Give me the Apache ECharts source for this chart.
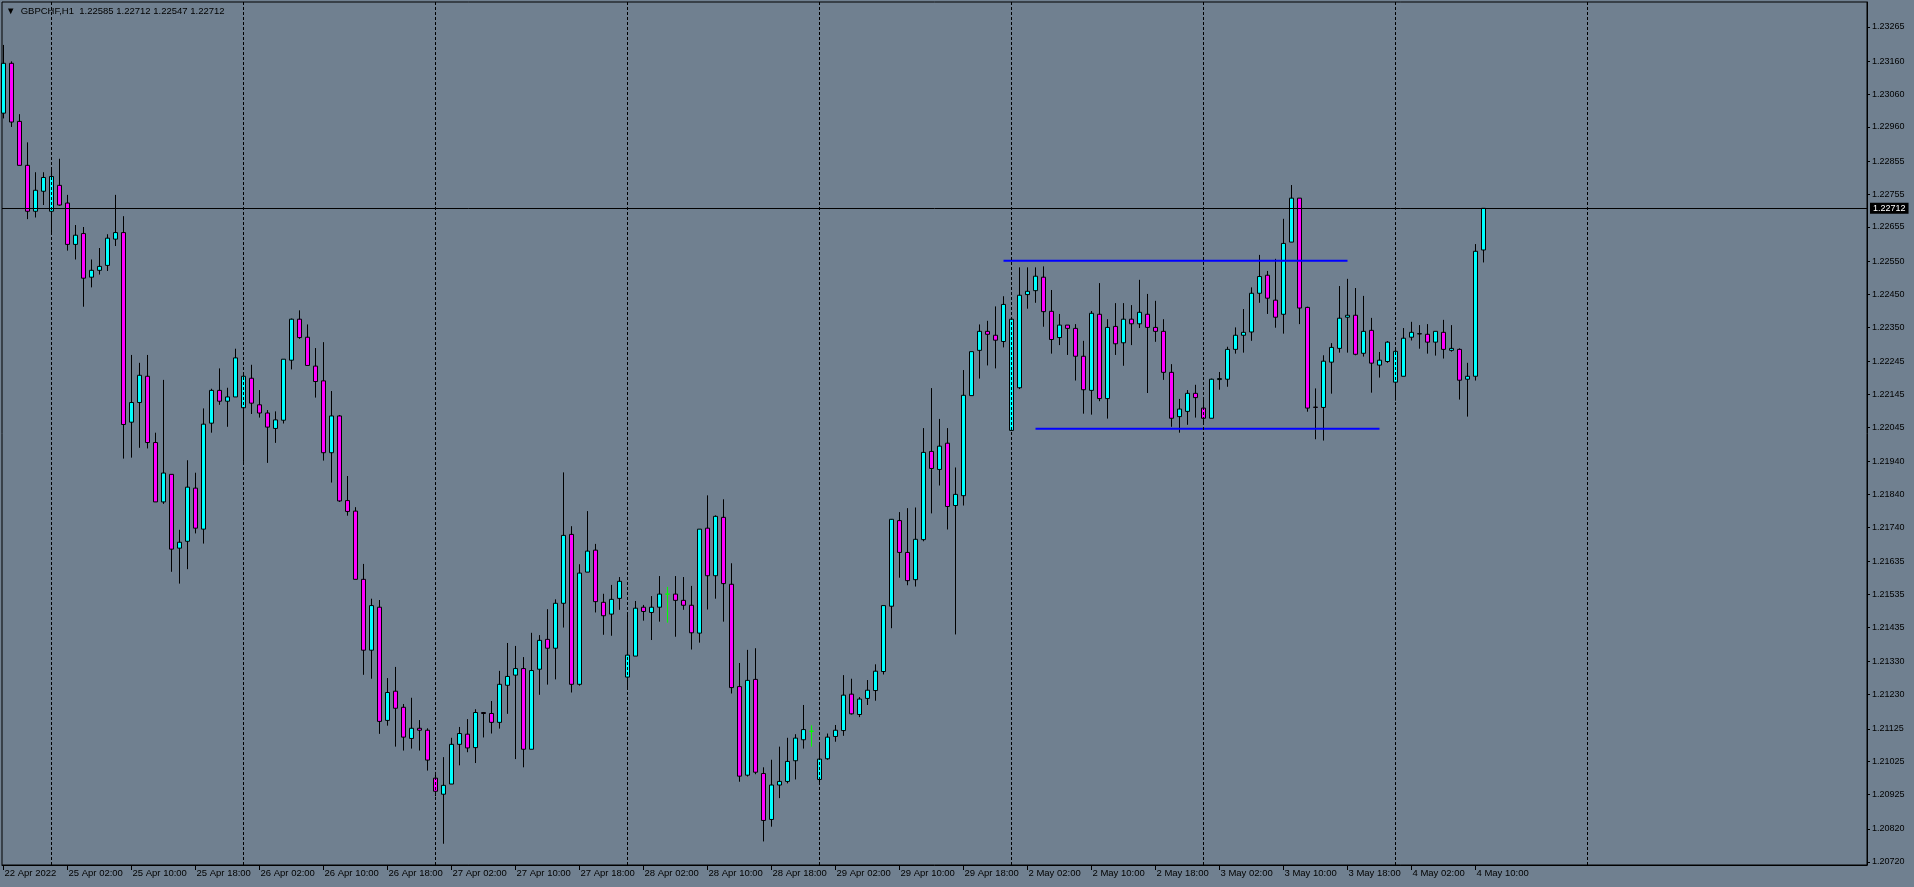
<!DOCTYPE html>
<html>
<head>
<meta charset="utf-8">
<script src="https://cdn.jsdelivr.net/npm/echarts/dist/echarts.min.js"></script>
<style>
html,body{margin:0;padding:0;background:#708090;}
#c{width:1914px;height:887px;}
</style>
</head>
<body>
<div id="c"></div>
<script>
// ---- data (GBPCHF H1) ----
const xLabels = ['22 Apr 2022','25 Apr 02:00','25 Apr 10:00','25 Apr 18:00','26 Apr 02:00','26 Apr 10:00','26 Apr 18:00','27 Apr 02:00','27 Apr 10:00','27 Apr 18:00','28 Apr 02:00','28 Apr 10:00','28 Apr 18:00','29 Apr 02:00','29 Apr 10:00','29 Apr 18:00','2 May 02:00','2 May 10:00','2 May 18:00','3 May 02:00','3 May 10:00','3 May 18:00','4 May 02:00','4 May 10:00'];
const daySeparators = [6, 30, 54, 78, 102, 126, 150, 174, 198];
const priceTicks = [1.23265,1.23160,1.23060,1.22960,1.22855,1.22755,1.22655,1.22550,1.22450,1.22350,1.22245,1.22145,1.22045,1.21940,1.21840,1.21740,1.21635,1.21535,1.21435,1.21330,1.21230,1.21125,1.21025,1.20925,1.20820,1.20720];
const lastPrice = 1.22712;
const titleText = 'GBPCHF,H1  1.22585 1.22712 1.22547 1.22712';

const open = [1.23002,1.23154,1.22977,1.22843,1.22703,1.22764,1.22703,1.22782,1.22728,1.22602,
1.22635,1.22502,1.22523,1.22538,1.22618,1.22638,1.22060,1.22120,1.22200,1.21998,
1.21817,1.21901,1.21676,1.21697,1.21859,1.21734,1.22057,1.22157,1.22124,1.22137,
1.22104,1.22194,1.22113,1.22088,1.22041,1.22066,1.22249,1.22374,1.22319,1.22231,
1.22186,1.21967,1.22079,1.21821,1.21789,1.21581,1.21365,1.21496,1.21151,1.21240,
1.21191,1.21096,1.21127,1.21121,1.20975,1.20926,1.20957,1.21078,1.21109,1.21068,
1.21175,1.21172,1.21145,1.21258,1.21289,1.21309,1.21063,1.21307,1.21398,1.21371,
1.21508,1.21718,1.21261,1.21603,1.21670,1.21511,1.21475,1.21523,1.21283,1.21347,
1.21496,1.21480,1.21496,1.21536,1.21536,1.21517,1.21502,1.21417,1.21737,1.21592,
1.21770,1.21566,1.21254,1.20984,1.21276,1.20989,1.20849,1.20954,1.20965,1.21028,
1.21092,1.21118,1.20971,1.21034,1.21102,1.21120,1.21231,1.21169,1.21218,1.21242,
1.21300,1.21499,1.21760,1.21663,1.21580,1.21702,1.21971,1.21916,1.21996,1.21806,
1.21836,1.22141,1.22279,1.22337,1.22325,1.22306,1.22035,1.22165,1.22449,1.22461,
1.22502,1.22398,1.22318,1.22356,1.22346,1.22261,1.22157,1.22389,1.22132,1.22352,
1.22302,1.22374,1.22360,1.22389,1.22349,1.22337,1.22212,1.22077,1.22093,1.22148,
1.22103,1.22072,1.22190,1.22191,1.22282,1.22325,1.22335,1.22453,1.22508,1.22432,
1.22389,1.22609,1.22743,1.22410,1.22106,1.22105,1.22243,1.22285,1.22380,1.22386,
1.22270,1.22340,1.22234,1.22245,1.22182,1.22200,1.22319,1.22329,1.22328,1.22304,
1.22334,1.22279,1.22282,1.22191,1.22200,1.22585];

const high = [1.23210,1.23160,1.22999,1.22913,1.22822,1.22822,1.22831,1.22863,1.22753,1.22661,
1.22655,1.22556,1.22591,1.22633,1.22753,1.22688,1.22265,1.22241,1.22265,1.22028,
1.22189,1.21901,1.21732,1.21944,1.21906,1.22102,1.22162,1.22224,1.22165,1.22284,
1.22205,1.22235,1.22158,1.22097,1.22093,1.22252,1.22376,1.22401,1.22358,1.22286,
1.22304,1.22155,1.22082,1.21896,1.21801,1.21628,1.21522,1.21518,1.21280,1.21314,
1.21201,1.21220,1.21152,1.21127,1.20994,1.21039,1.21098,1.21131,1.21155,1.21185,
1.21176,1.21210,1.21302,1.21387,1.21378,1.21344,1.21418,1.21411,1.21490,1.21520,
1.21907,1.21743,1.21627,1.21789,1.21689,1.21537,1.21564,1.21588,1.21479,1.21515,
1.21503,1.21530,1.21591,1.21558,1.21591,1.21588,1.21561,1.21734,1.21837,1.21776,
1.21825,1.21630,1.21326,1.21366,1.21371,1.21008,1.21031,1.21071,1.21098,1.21109,
1.21198,1.21136,1.21076,1.21111,1.21137,1.21289,1.21278,1.21222,1.21274,1.21322,
1.21501,1.21765,1.21786,1.21798,1.21800,1.22042,1.22164,1.22070,1.22042,1.21922,
1.22219,1.22275,1.22358,1.22369,1.22413,1.22444,1.22374,1.22532,1.22532,1.22532,
1.22535,1.22463,1.22390,1.22356,1.22359,1.22308,1.22399,1.22484,1.22374,1.22423,
1.22423,1.22417,1.22494,1.22451,1.22430,1.22374,1.22237,1.22131,1.22158,1.22174,
1.22133,1.22193,1.22213,1.22290,1.22349,1.22405,1.22471,1.22570,1.22521,1.22558,
1.22680,1.22783,1.22743,1.22412,1.22163,1.22264,1.22301,1.22475,1.22497,1.22469,
1.22445,1.22378,1.22274,1.22307,1.22280,1.22347,1.22366,1.22356,1.22359,1.22337,
1.22372,1.22356,1.22285,1.22241,1.22603,1.22712];

const low = [1.22986,1.22960,1.22843,1.22679,1.22684,1.22722,1.22635,1.22720,1.22583,1.22556,
1.22412,1.22471,1.22510,1.22521,1.22597,1.21949,1.21952,1.21982,1.21980,1.21817,
1.21811,1.21604,1.21568,1.21612,1.21721,1.21690,1.22028,1.22113,1.22046,1.22137,
1.21939,1.22085,1.22074,1.21936,1.21997,1.22056,1.22221,1.22314,1.22233,1.22135,
1.21943,1.21876,1.21817,1.21775,1.21581,1.21290,1.21278,1.21110,1.21135,1.21071,
1.21059,1.21065,1.21059,1.20998,1.20920,1.20775,1.20957,1.21014,1.21054,1.21021,
1.21099,1.21111,1.21126,1.21171,1.21033,1.21008,1.21063,1.21229,1.21260,1.21276,
1.21434,1.21236,1.21257,1.21603,1.21480,1.21412,1.21409,1.21488,1.21248,1.21347,
1.21455,1.21396,1.21452,1.21449,1.21406,1.21488,1.21367,1.21388,1.21489,1.21522,
1.21452,1.21233,1.20964,1.20980,1.20987,1.20782,1.20827,1.20914,1.20959,1.20971,
1.21065,1.21071,1.20956,1.21031,1.21086,1.21104,1.21169,1.21161,1.21198,1.21211,
1.21291,1.21432,1.21586,1.21563,1.21559,1.21697,1.21782,1.21867,1.21733,1.21413,
1.21806,1.22141,1.22193,1.22233,1.22224,1.22288,1.22035,1.22161,1.22406,1.22424,
1.22351,1.22269,1.22295,1.22265,1.22187,1.22086,1.22083,1.22124,1.22071,1.22265,
1.22232,1.22295,1.22347,1.22149,1.22305,1.22189,1.22046,1.22028,1.22052,1.22074,
1.22052,1.22072,1.22159,1.22168,1.22269,1.22272,1.22308,1.22424,1.22390,1.22348,
1.22330,1.22609,1.22359,1.22092,1.22008,1.22004,1.22147,1.22272,1.22272,1.22264,
1.22260,1.22150,1.22196,1.22241,1.22126,1.22200,1.22309,1.22284,1.22269,1.22263,
1.22254,1.22275,1.22129,1.22077,1.22187,1.22547];

const close = [1.23154,1.22975,1.22843,1.22703,1.22767,1.22806,1.22809,1.22722,1.22602,1.22630,
1.22499,1.22523,1.22535,1.22621,1.22638,1.22053,1.22120,1.22203,1.21998,1.21817,
1.21905,1.21673,1.21694,1.21862,1.21737,1.22054,1.22157,1.22124,1.22137,1.22256,
1.22200,1.22118,1.22088,1.22045,1.22067,1.22252,1.22374,1.22318,1.22233,1.22184,
1.21967,1.22079,1.21820,1.21788,1.21581,1.21365,1.21501,1.21148,1.21236,1.21188,
1.21100,1.21127,1.21121,1.21030,1.20935,1.20953,1.21078,1.21111,1.21067,1.21175,
1.21172,1.21145,1.21261,1.21285,1.21309,1.21063,1.21303,1.21395,1.21371,1.21508,
1.21715,1.21261,1.21600,1.21667,1.21513,1.21470,1.21520,1.21575,1.21350,1.21493,
1.21483,1.21496,1.21536,1.21536,1.21517,1.21502,1.21418,1.21734,1.21592,1.21773,
1.21568,1.21251,1.20981,1.21273,1.20993,1.20846,1.20954,1.20965,1.21026,1.21097,
1.21123,1.21118,1.21033,1.21100,1.21121,1.21228,1.21171,1.21216,1.21243,1.21301,
1.21501,1.21764,1.21663,1.21577,1.21703,1.21968,1.21919,1.21987,1.21803,1.21840,
1.22142,1.22275,1.22337,1.22328,1.22310,1.22419,1.22374,1.22447,1.22459,1.22505,
1.22397,1.22312,1.22356,1.22346,1.22261,1.22159,1.22392,1.22132,1.22349,1.22299,
1.22374,1.22360,1.22395,1.22349,1.22337,1.22212,1.22072,1.22100,1.22148,1.22135,
1.22072,1.22191,1.22193,1.22282,1.22325,1.22334,1.22453,1.22504,1.22438,1.22380,
1.22605,1.22743,1.22408,1.22103,1.22105,1.22246,1.22288,1.22377,1.22386,1.22267,
1.22337,1.22240,1.22249,1.22304,1.22276,1.22316,1.22334,1.22330,1.22304,1.22337,
1.22282,1.22285,1.22188,1.22200,1.22581,1.22712];

// trend lines drawn on chart: [barIndex, price]
const resistanceLine = [[125, 1.22552], [168, 1.22552]];
const supportLine = [[129, 1.22040], [172, 1.22040]];

// ---- chart ----
const FONT = '"Liberation Sans", Arial, sans-serif';
const xTickIdx = xLabels.map((_, k) => k * 8);
const candleData = open.map((o, i) => {
  const item = { value: [i, o, close[i], low[i], high[i]] };
  if (o === close[i]) {
    item.itemStyle = { borderColor: '#00ff00', borderColor0: '#00ff00', borderColorDoji: '#00ff00' };
  }
  return item;
});

const chart = echarts.init(document.getElementById('c'), null, { renderer: 'canvas' });
chart.setOption({
  backgroundColor: '#708090',
  animation: false,
  title: {
    text: '\u25BC  ' + titleText,
    left: 6, top: 6, padding: 0,
    textStyle: { fontSize: 9.5, fontWeight: 'normal', color: '#000', fontFamily: FONT }
  },
  grid: {
    left: 2, right: 47, top: 2, bottom: 22,
    show: true, borderColor: '#000', borderWidth: 1, backgroundColor: 'transparent',
    containLabel: false, outerBoundsMode: 'none'
  },
  xAxis: {
    type: 'value',
    min: -0.1875, max: 232.9375,
    axisLine: { show: true, onZero: false, lineStyle: { color: '#000', width: 1 } },
    axisTick: { show: true, customValues: xTickIdx, length: 5, lineStyle: { color: '#000' } },
    axisLabel: {
      show: true, customValues: xTickIdx,
      formatter: v => xLabels[Math.round(v / 8)] || '',
      align: 'left', margin: 3, padding: [0, 0, 0, 1],
      fontSize: 9.5, color: '#000', fontFamily: FONT
    },
    splitLine: { show: false }
  },
  yAxis: {
    type: 'value', position: 'right',
    min: 1.207102, max: 1.233409,
    axisLine: { show: true, onZero: false, lineStyle: { color: '#000', width: 1 } },
    axisTick: { show: true, customValues: priceTicks, length: 3, lineStyle: { color: '#000' } },
    axisLabel: {
      show: true, customValues: priceTicks,
      formatter: v => v.toFixed(5),
      margin: 5, fontSize: 9, color: '#000', fontFamily: FONT
    },
    splitLine: { show: false }
  },
  series: [
    {
      type: 'candlestick',
      data: candleData,
      barWidth: 4,
      itemStyle: {
        color: '#00ffff', color0: '#ff00ff',
        borderColor: '#000000', borderColor0: '#000000', borderColorDoji: '#00ff00',
        borderWidth: 1
      },
      markLine: {
        silent: true, symbol: 'none', animation: false, precision: 5,
        data: daySeparators.map(d => ({
          xAxis: d,
          lineStyle: { color: '#000', width: 1, type: [3, 2] },
          label: { show: false }
        }))
      }
    },
    {
      type: 'line', data: resistanceLine, symbol: 'none', silent: true,
      lineStyle: { color: '#0000ff', width: 2 }
    },
    {
      type: 'line', data: supportLine, symbol: 'none', silent: true,
      lineStyle: { color: '#0000ff', width: 2 },
      markLine: {
        silent: true, symbol: 'none', animation: false, precision: 5,
        data: [{
          yAxis: lastPrice,
          lineStyle: { color: '#000', width: 1, type: 'solid' },
          label: {
            show: true, position: 'end', distance: 3,
            formatter: lastPrice.toFixed(5),
            backgroundColor: '#000', color: '#fff', padding: [1, 3, 1, 3],
            fontSize: 9, fontFamily: FONT
          }
        }]
      }
    }
  ]
});
</script>
</body>
</html>
